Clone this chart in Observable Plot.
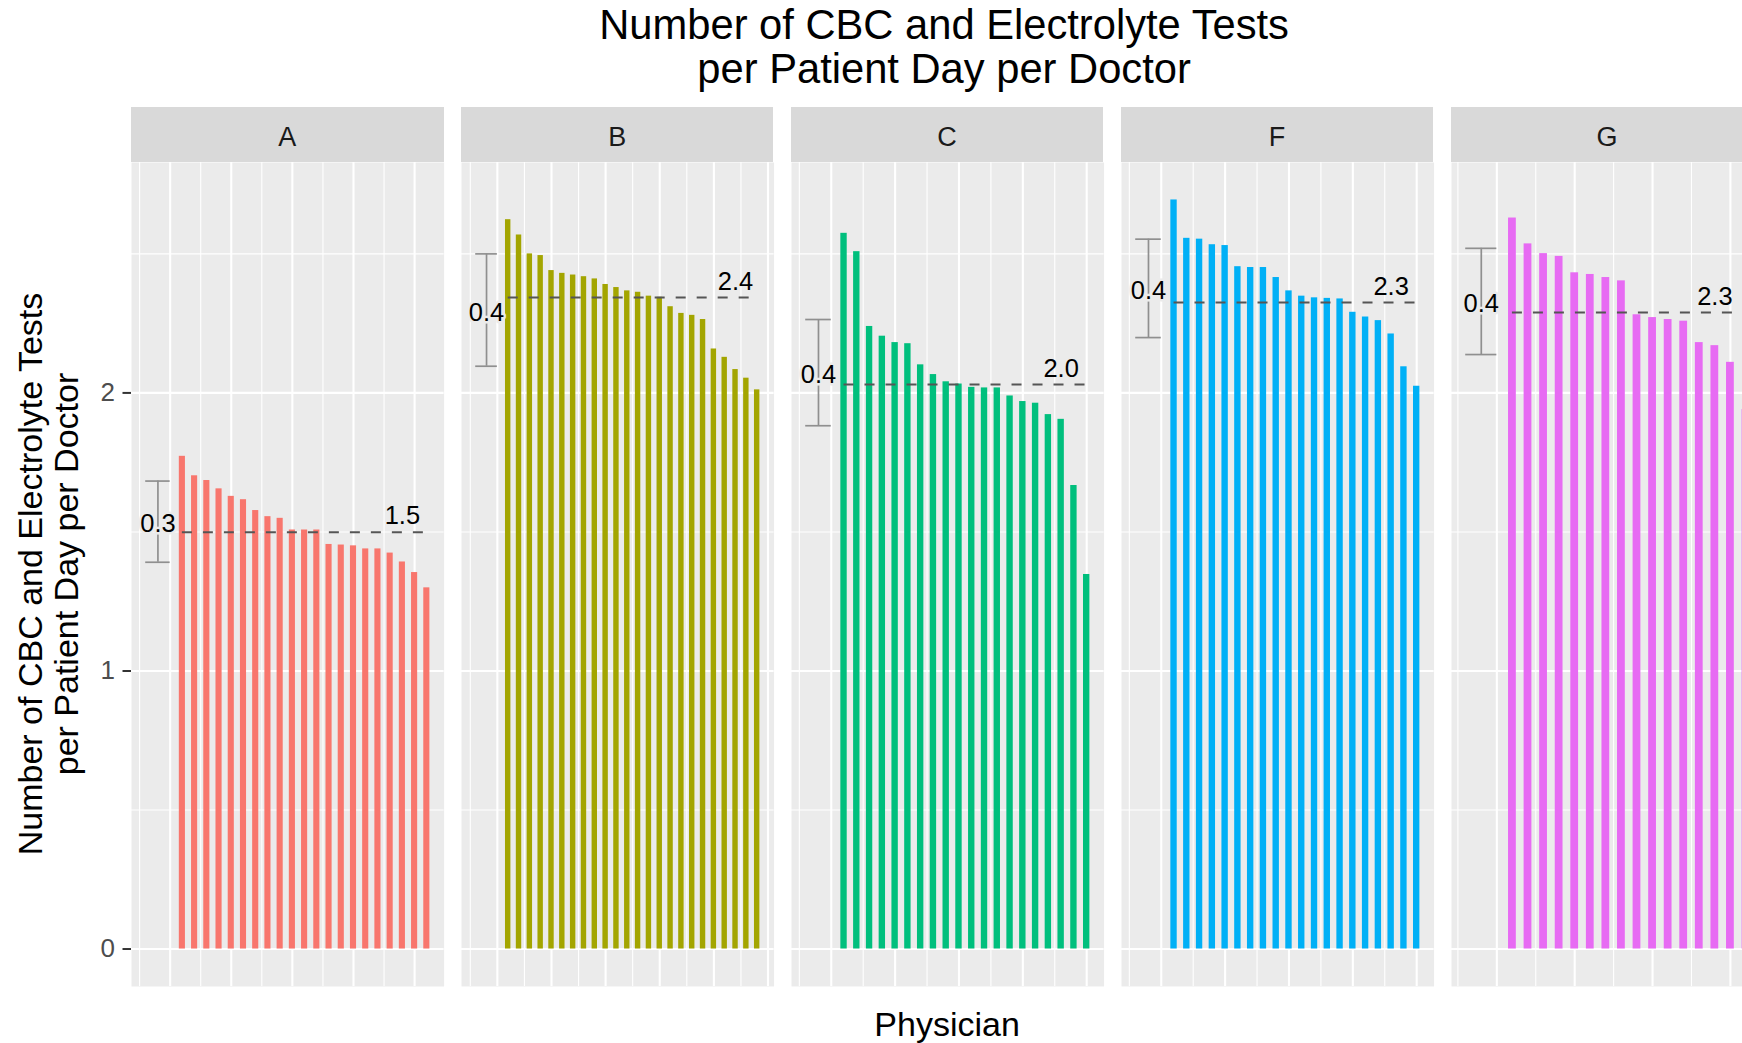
<!DOCTYPE html>
<html><head><meta charset="utf-8">
<script src="https://cdn.jsdelivr.net/npm/d3@7"></script>
<script src="https://cdn.jsdelivr.net/npm/@observablehq/plot@0.6"></script>
<style>
html,body{margin:0;padding:0;background:#fff;overflow:hidden;}
#root{position:relative;width:1742px;height:1043px;overflow:hidden;font-family:"Liberation Sans",Arial,sans-serif;color:#000;}
.strip{position:absolute;background:#D9D9D9;color:#1A1A1A;font-size:27px;display:flex;align-items:center;justify-content:center;box-sizing:border-box;padding-top:5px;}
</style></head>
<body><div id="root"></div>
<script>
// ---- data ----
const groups = ["A", "B", "C", "F", "G"];
const colors = ["#F8766D", "#A3A500", "#00BF7D", "#00B0F6", "#E76BF3"];
const valuesA = [1.772, 1.702, 1.685, 1.655, 1.628, 1.616, 1.577, 1.555, 1.549, 1.507, 1.507, 1.507, 1.455, 1.453, 1.450, 1.439, 1.439, 1.424, 1.392, 1.354, 1.299];
const valuesB = [2.623, 2.568, 2.500, 2.494, 2.440, 2.430, 2.424, 2.418, 2.410, 2.390, 2.379, 2.367, 2.362, 2.348, 2.344, 2.310, 2.286, 2.279, 2.264, 2.158, 2.128, 2.084, 2.053, 2.011];
const valuesC = [2.574, 2.508, 2.239, 2.204, 2.181, 2.177, 2.101, 2.066, 2.040, 2.032, 2.020, 2.018, 2.018, 1.989, 1.969, 1.963, 1.922, 1.905, 1.667, 1.347];
const valuesF = [2.694, 2.556, 2.553, 2.533, 2.530, 2.454, 2.451, 2.451, 2.415, 2.367, 2.348, 2.342, 2.340, 2.338, 2.290, 2.273, 2.260, 2.212, 2.094, 2.024];
const valuesG = [2.629, 2.536, 2.501, 2.491, 2.432, 2.426, 2.415, 2.403, 2.281, 2.271, 2.264, 2.258, 2.181, 2.170, 2.110, 1.940];
const centerLines = [1.499, 2.343, 2.030, 2.325, 2.289];
const centerLabels = ["1.5", "2.4", "2.0", "2.3", "2.3"];
const errLow = [1.391, 2.096, 1.882, 2.199, 2.138];
const errHigh = [1.683, 2.500, 2.264, 2.553, 2.520];
const errLabels = ["0.3", "0.4", "0.4", "0.4", "0.4"];
const yTicks = [0, 1, 2];
const yMinor = [0.5, 1.5, 2.5];
const titleLines = ["Number of CBC and Electrolyte Tests", "per Patient Day per Doctor"];
const yTitleLines = ["Number of CBC and Electrolyte Tests", "per Patient Day per Doctor"];
const xTitle = "Physician";

const series = [valuesA, valuesB, valuesC, valuesF, valuesG];

// ---- layout ----
const root = document.getElementById("root");
const FONT = '"Liberation Sans", Arial, sans-serif';
const panelLeft0 = 131, panelW = 312.6, gap = 17.3;
const panelTop = 162, panelH = 824, stripTop = 107, stripH = 55;
const axisMargin = 131;

const ymax = d3.max([...series.flat(), ...errHigh]);
const ydom = [-0.05 * ymax, ymax * 1.05];

function addAbs(el, left, top) {
  el.style.position = "absolute";
  el.style.left = left + "px";
  el.style.top = top + "px";
  root.appendChild(el);
}

// title
titleLines.forEach((t, i) => {
  const d = document.createElement("div");
  d.textContent = t;
  d.style.width = (5 * panelW + 4 * gap) + "px";
  d.style.textAlign = "center";
  d.style.fontSize = "41.7px";
  d.style.lineHeight = "36px";
  d.style.whiteSpace = "nowrap";
  addAbs(d, panelLeft0 - 3, 7.3 + i * 44);
});

// y title (rotated)
{
  const d = document.createElement("div");
  d.innerHTML = yTitleLines.map(s => `<div>${s}</div>`).join("");
  d.style.width = "700px";
  d.style.height = "72px";
  d.style.textAlign = "center";
  d.style.fontSize = "34px";
  d.style.lineHeight = "36px";
  d.style.whiteSpace = "nowrap";
  d.style.transform = "rotate(-90deg)";
  d.style.transformOrigin = "50% 50%";
  addAbs(d, 48 - 350, 574 - 36);
}

// x title
{
  const d = document.createElement("div");
  d.textContent = xTitle;
  d.style.width = (5 * panelW + 4 * gap) + "px";
  d.style.textAlign = "center";
  d.style.fontSize = "34px";
  d.style.lineHeight = "34px";
  addAbs(d, panelLeft0, 1006.9);
}

series.forEach((vals, i) => {
  const left = panelLeft0 + i * (panelW + gap);
  // strip
  const s = document.createElement("div");
  s.className = "strip";
  s.textContent = groups[i];
  s.style.width = panelW + "px";
  s.style.height = stripH + "px";
  addAbs(s, left, stripTop);

  const n = vals.length;
  const data = vals.map((v, k) => ({x: k + 1, y: v}));
  const xmin = -2, xmax = n + 0.25;
  const pad = 0.05 * (xmax - xmin);
  const xdom = [xmin - pad, xmax + pad];
  const xMajor = d3.range(Math.ceil(xdom[0] / 5) * 5, xdom[1], 5);
  const xMinor = d3.range(Math.ceil((xdom[0] - 2.5) / 5) * 5 + 2.5, xdom[1], 5);
  const ml = i === 0 ? axisMargin : 0;
  const center = centerLines[i];
  const eb = [{x: -1, lo: errLow[i], hi: errHigh[i], mid: (errLow[i] + errHigh[i]) / 2, label: errLabels[i]}];

  const marks = [
    Plot.frame({fill: "#EBEBEB", stroke: "none"}),
    Plot.ruleY(yMinor, {stroke: "white", strokeWidth: 1.1}),
    Plot.ruleX(xMinor, {stroke: "white", strokeWidth: 1.1}),
    Plot.ruleY(yTicks, {stroke: "white", strokeWidth: 2.1}),
    Plot.ruleX(xMajor, {stroke: "white", strokeWidth: 2.1}),
    Plot.rectY(data, {x1: d => d.x - 0.25, x2: d => d.x + 0.25, y1: 0, y2: "y", fill: colors[i]}),
    Plot.ruleX(eb, {x: "x", y1: "lo", y2: "hi", stroke: "#8f8f8f", strokeWidth: 1.7}),
    Plot.ruleY(eb, {y: "lo", x1: d => d.x - 1, x2: d => d.x + 1, stroke: "#8f8f8f", strokeWidth: 1.7}),
    Plot.ruleY(eb, {y: "hi", x1: d => d.x - 1, x2: d => d.x + 1, stroke: "#8f8f8f", strokeWidth: 1.7}),
    Plot.text(eb, {x: "x", y: "mid", text: "label", fontSize: 25.5, fill: "black", stroke: "#EBEBEB", strokeWidth: 5, lineAnchor: "middle", dy: 2.5}),
    Plot.ruleY([center], {x1: 1, x2: n, stroke: "#555555", strokeWidth: 2, strokeDasharray: "10,11"}),
    Plot.text([centerLabels[i]], {x: n - 2, y: center, text: d => d, fontSize: 25.5, fill: "black", lineAnchor: "middle", dy: -16})
  ];
  if (i === 0) {
    marks.push(Plot.axisY(yTicks, {anchor: "left", stroke: "#333333", fill: "#4D4D4D", strokeWidth: 2, tickSize: 8.5, tickPadding: 8, fontSize: 26, tickFormat: d => String(d), label: null}));
  }

  const chart = Plot.plot({
    width: ml + panelW,
    height: panelH,
    marginLeft: ml, marginRight: 0, marginTop: 0, marginBottom: 0,
    x: {domain: xdom, axis: null},
    y: {domain: ydom, axis: null},
    style: {fontFamily: FONT, background: "transparent", overflow: "visible", color: "#000"},
    marks
  });
  addAbs(chart, left - ml, panelTop);
});
</script>
</body></html>
